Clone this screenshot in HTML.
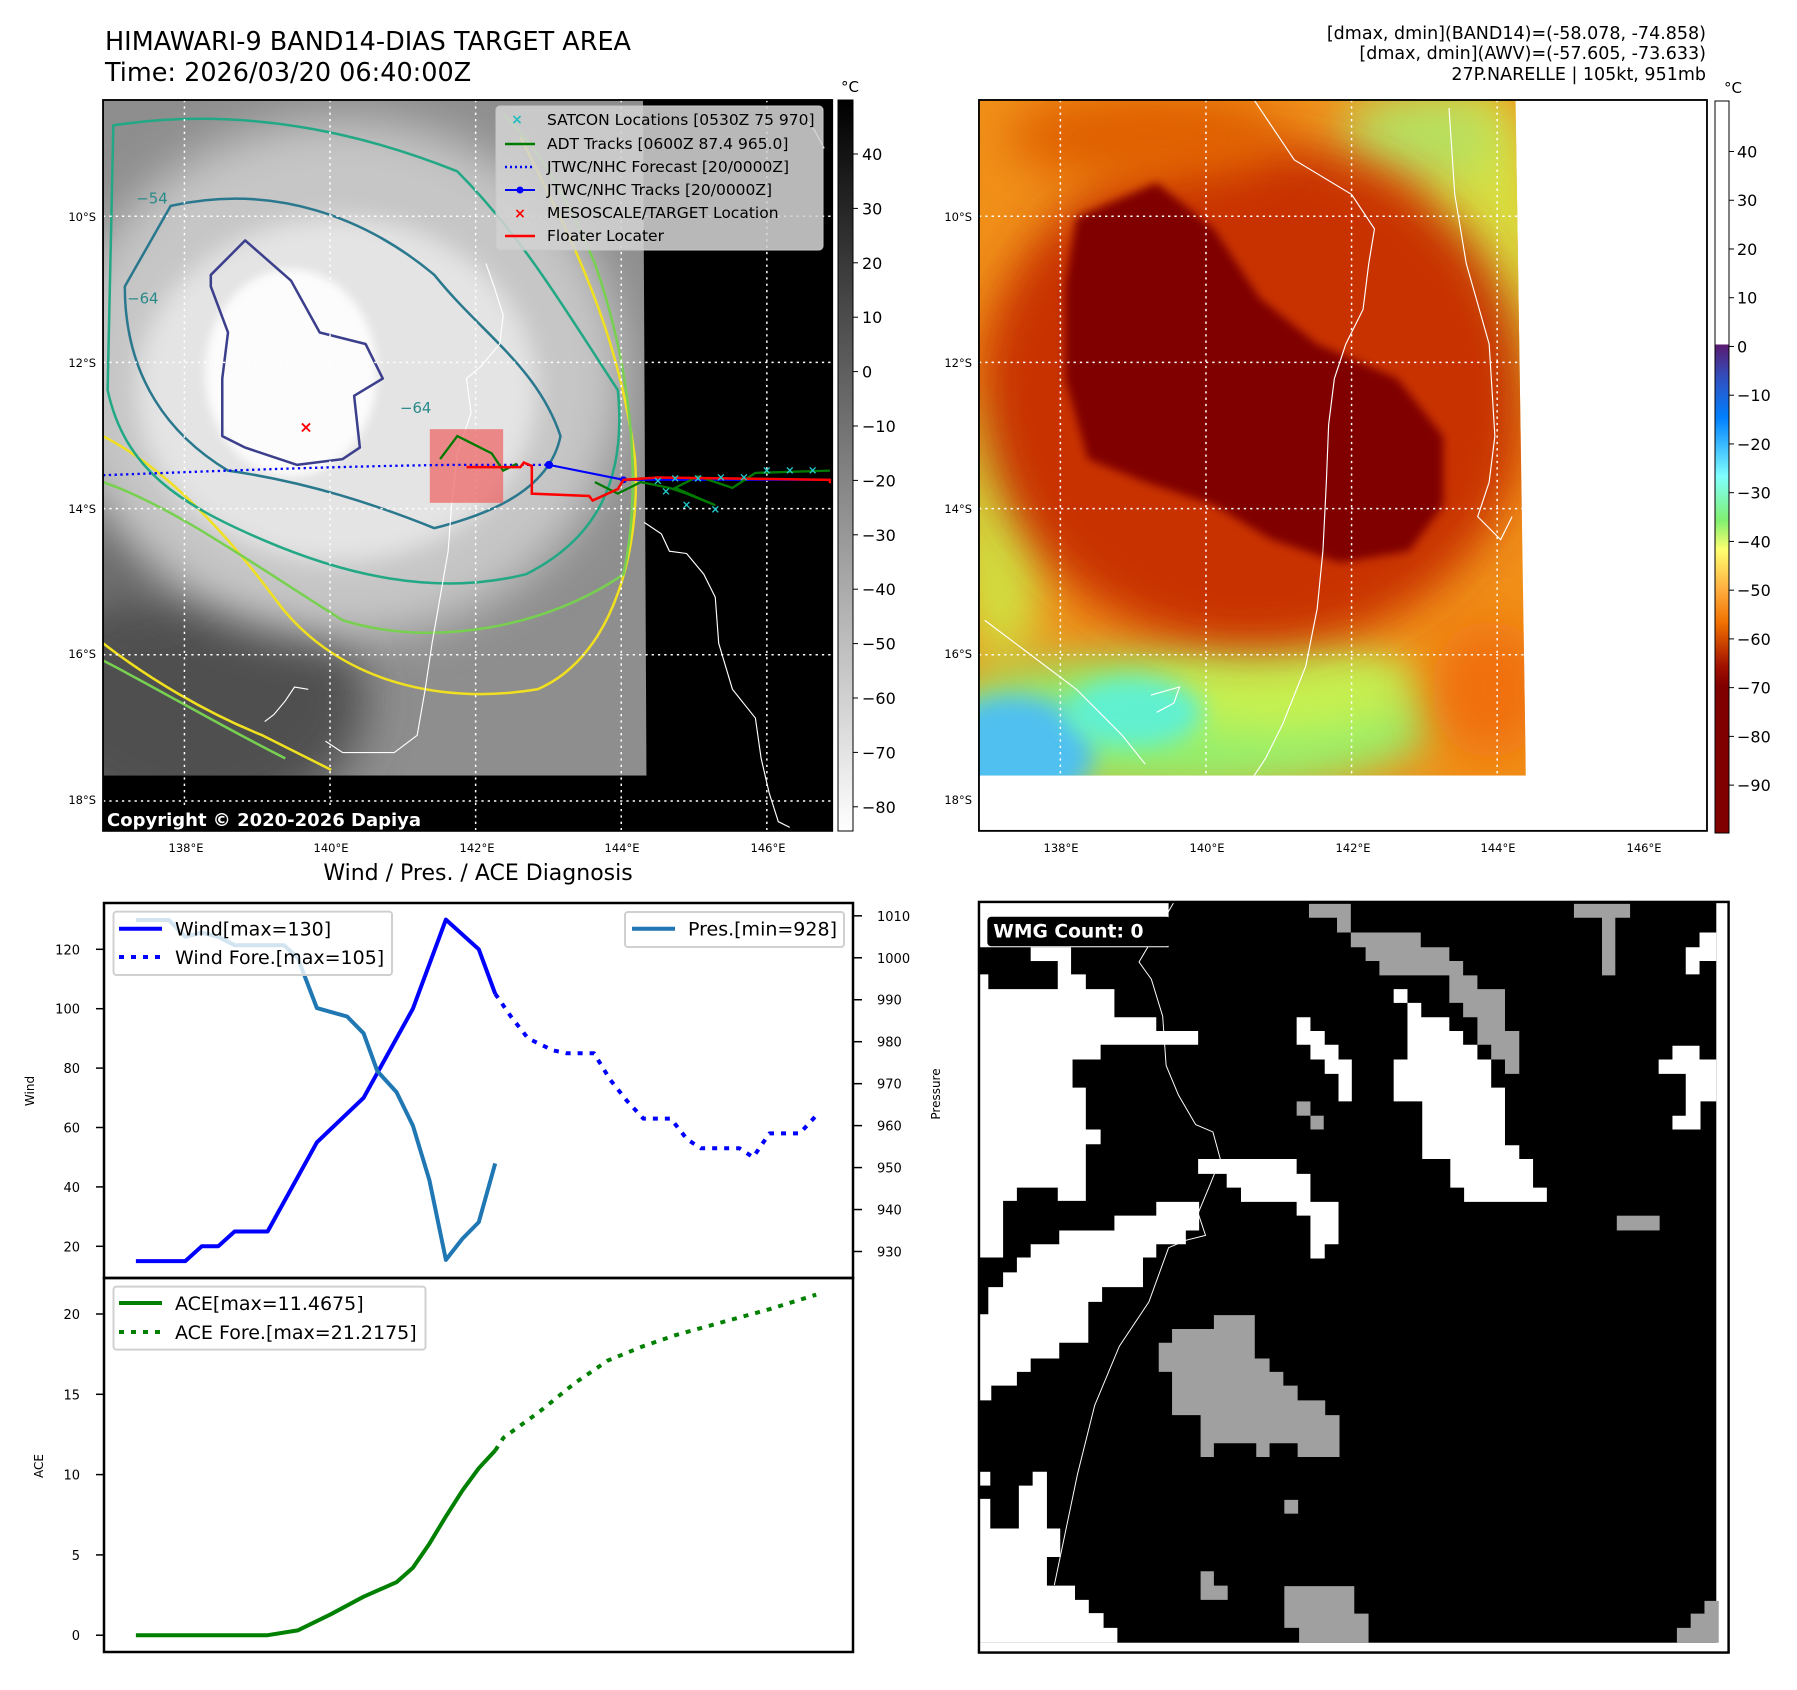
<!DOCTYPE html>
<html><head><meta charset="utf-8"><style>
html,body{margin:0;padding:0;background:#fff}
svg{display:block;font-family:"DejaVu Sans","Liberation Sans",sans-serif}
</style></head><body>
<svg id="root" width="1797" height="1690" viewBox="0 0 1797 1690" xmlns="http://www.w3.org/2000/svg">
<defs>
<filter id="b4" x="-50%" y="-50%" width="200%" height="200%"><feGaussianBlur stdDeviation="4"/></filter>
<filter id="b10" x="-50%" y="-50%" width="200%" height="200%"><feGaussianBlur stdDeviation="10"/></filter>
<filter id="b20" x="-50%" y="-50%" width="200%" height="200%"><feGaussianBlur stdDeviation="20"/></filter>
<clipPath id="c1"><polygon points="91,88 562,88 565,675 91,675"/></clipPath>
<clipPath id="c1ax"><rect x="91" y="88" width="636" height="635"/></clipPath>
<clipPath id="c2"><polygon points="855,88 1323,88 1332,675 855,675"/></clipPath>
<clipPath id="c2ax"><rect x="855" y="88" width="635" height="635"/></clipPath>
<linearGradient id="g1" x1="0" y1="0" x2="0" y2="1"><stop offset="0" stop-color="#000"/><stop offset="1" stop-color="#fff"/></linearGradient>
<linearGradient id="g2" x1="0" y1="0" x2="0" y2="1">
<stop offset="0" stop-color="#5a1a70"/><stop offset="0.07" stop-color="#3050c0"/><stop offset="0.15" stop-color="#0080ff"/>
<stop offset="0.27" stop-color="#80ffff"/><stop offset="0.36" stop-color="#80f070"/><stop offset="0.42" stop-color="#ffff70"/>
<stop offset="0.5" stop-color="#ffb040"/><stop offset="0.57" stop-color="#f07000"/><stop offset="0.66" stop-color="#a01000"/>
<stop offset="0.7" stop-color="#800000"/><stop offset="1" stop-color="#800000"/></linearGradient>
</defs>

<!-- titles -->
<text x="105" y="50" font-size="25.5">HIMAWARI-9 BAND14-DIAS TARGET AREA</text>
<text x="105" y="81" font-size="25.5">Time: 2026/03/20 06:40:00Z</text>
<g font-size="17.5" text-anchor="end">
<text x="1706" y="39">[dmax, dmin](BAND14)=(-58.078, -74.858)</text>
<text x="1706" y="59">[dmax, dmin](AWV)=(-57.605, -73.633)</text>
<text x="1706" y="80">27P.NARELLE | 105kt, 951mb</text>
</g>

<!-- MAP 1 -->
<g transform="matrix(1.1465 0 0 1.151 -1.3 -1.3)">
<rect x="91" y="88" width="636" height="635" fill="#000"/>
<g clip-path="url(#c1)">
<rect x="91" y="88" width="480" height="590" fill="#8e8e8e"/>
<ellipse cx="170" cy="610" rx="150" ry="110" fill="#505050" filter="url(#b20)"/>
<ellipse cx="125" cy="470" rx="55" ry="60" fill="#606060" filter="url(#b20)"/>
<ellipse cx="300" cy="330" rx="245" ry="225" fill="#c6c6c6" filter="url(#b20)"/>
<ellipse cx="295" cy="340" rx="175" ry="150" fill="#e4e4e4" filter="url(#b10)"/>
<ellipse cx="255" cy="325" rx="75" ry="90" fill="#fcfcfc" filter="url(#b4)"/>
<g fill="none" stroke-width="2.2" stroke-linejoin="round">
<path d="M91,380 C130,400 180,440 240,520 C290,590 380,615 470,600 C540,570 560,470 555,400 C545,320 520,250 480,170 L455,120" stroke="#f0e020"/>
<path d="M91,560 C130,590 180,620 230,640 L290,670" stroke="#f0e020"/>
<path d="M91,420 C150,440 220,490 300,540 C380,565 480,545 545,500 C560,430 555,330 520,230 C490,160 470,130 440,100" stroke="#78d050"/>
<path d="M91,575 C140,600 190,630 250,660" stroke="#78d050"/>
<path d="M100,110 C200,95 300,110 400,150 C460,210 500,280 540,340 C548,420 520,470 460,500 C380,520 300,500 230,470 C160,440 110,410 95,340 Z" stroke="#22a884"/>
<path d="M150,180 C240,160 320,190 380,240 C420,290 470,320 490,380 C480,430 420,450 380,460 C330,440 270,420 200,410 C150,380 110,330 110,250 Z" stroke="#2a788e"/>
<path d="M185,240 L215,210 L255,245 L280,290 L320,300 L335,330 L310,345 L315,390 L300,400 L260,405 L215,390 L195,380 L195,330 L200,290 L185,250 Z" stroke="#3b3f8c"/>
</g>
<g font-size="13" fill="#2a8a8a"><text x="120" y="178">−54</text><text x="350" y="360">−64</text><text x="112" y="265">−64</text></g>
</g>
<g clip-path="url(#c1ax)">
<g stroke="#fff" stroke-width="1.3" stroke-dasharray="2 3.5" fill="none">
<line x1="162" y1="88" x2="162" y2="723"/><line x1="289" y1="88" x2="289" y2="723"/><line x1="416" y1="88" x2="416" y2="723"/><line x1="543" y1="88" x2="543" y2="723"/><line x1="670" y1="88" x2="670" y2="723"/>
<line x1="91" y1="189" x2="727" y2="189"/><line x1="91" y1="316" x2="727" y2="316"/><line x1="91" y1="443" x2="727" y2="443"/><line x1="91" y1="570" x2="727" y2="570"/><line x1="91" y1="697" x2="727" y2="697"/>
</g>
<g stroke="#fff" stroke-width="1" fill="none">
<path d="M425,230 L432,250 440,275 437,300 420,320 408,330 412,360 400,395 395,440 392,480 385,520 378,560 372,600 365,640 345,655 300,655 285,645"/>
<path d="M270,600 L258,598 250,610 240,622 232,628"/>
<path d="M563,455 L578,465 585,480 600,482 615,500 625,520 628,560 640,600 660,625 665,660 672,690 680,715 690,720"/>
<path d="M700,100 L712,115 720,130"/>
</g>
<rect x="376" y="374" width="64" height="64" fill="#f06060" fill-opacity="0.7"/>
<path d="M91,414 C200,410 300,406 400,405 L480,405" stroke="#0000ff" stroke-width="2" stroke-dasharray="2 3" fill="none"/>
<polyline points="480,405 545,418 725,418" stroke="#0000ff" stroke-width="1.8" fill="none"/>
<circle cx="480" cy="405" r="3.5" fill="#0000ff"/><circle cx="545" cy="418" r="3" fill="#0000ff"/>
<polyline points="385,400 400,380 410,385 430,395 440,410 452,404" stroke="#007a00" stroke-width="2" fill="none"/>
<polyline points="520,420 540,430 560,420 585,425 600,430 625,440 590,425 610,415 640,425 660,412 725,410" stroke="#007a00" stroke-width="2" fill="none"/>
<polyline points="408,407 455,407 458,403 465,406 465,430 515,432 518,436 540,426 545,418 575,416 725,418 725,421" stroke="#ff0000" stroke-width="2.2" fill="none"/>
<g fill="#20c8c8" font-size="10" font-weight="bold" text-anchor="middle">
<text x="575" y="422">×</text><text x="590" y="420">×</text><text x="610" y="420">×</text><text x="630" y="419">×</text><text x="650" y="419">×</text><text x="670" y="413">×</text><text x="690" y="413">×</text><text x="710" y="413">×</text><text x="600" y="443">×</text><text x="625" y="447">×</text><text x="582" y="431">×</text>
</g>
<text x="268" y="377" fill="#ff0000" font-size="14" font-weight="bold" text-anchor="middle">×</text>
</g>
<rect x="91" y="88" width="636" height="635" fill="none" stroke="#000" stroke-width="1.6"/>
</g>

<!-- map1 legend -->
<g font-size="15.5">
<rect x="496" y="106" width="327" height="144" rx="4" fill="#d2d2d2" fill-opacity="0.88" stroke="#c8c8c8"/>
<text x="517" y="124" fill="#20c0c0" font-size="14" font-weight="bold" text-anchor="middle">×</text><text x="547" y="125">SATCON Locations [0530Z 75 970]</text>
<line x1="505" y1="144" x2="535" y2="144" stroke="#007a00" stroke-width="2.5"/><text x="547" y="149">ADT Tracks [0600Z 87.4 965.0]</text>
<line x1="505" y1="167" x2="535" y2="167" stroke="#0000ff" stroke-width="2.5" stroke-dasharray="2 3"/><text x="547" y="172">JTWC/NHC Forecast [20/0000Z]</text>
<line x1="505" y1="190" x2="535" y2="190" stroke="#0000ff" stroke-width="2"/><circle cx="520" cy="190" r="3.5" fill="#0000ff"/><text x="547" y="195">JTWC/NHC Tracks [20/0000Z]</text>
<text x="520" y="218" fill="#ff0000" font-size="14" font-weight="bold" text-anchor="middle">×</text><text x="547" y="218">MESOSCALE/TARGET Location</text>
<line x1="505" y1="236" x2="535" y2="236" stroke="#ff0000" stroke-width="2.5"/><text x="547" y="241">Floater Locater</text>
</g>
<g>
<rect x="103" y="806" width="312" height="25" rx="3" fill="#000"/>
<text x="107" y="826" fill="#fff" font-size="18" font-weight="bold">Copyright © 2020-2026 Dapiya</text>
</g>

<!-- MAP 2 -->
<g transform="matrix(1.1465 0 0 1.151 -1.3 -1.3)">
<rect x="855" y="88" width="635" height="635" fill="#fff"/>
<g clip-path="url(#c2)">
<rect x="855" y="88" width="480" height="590" fill="#f09018"/>
<ellipse cx="1290" cy="230" rx="60" ry="150" fill="#d8e040" filter="url(#b20)"/>
<ellipse cx="1240" cy="120" rx="70" ry="40" fill="#b8e060" filter="url(#b20)"/>
<ellipse cx="875" cy="460" rx="40" ry="120" fill="#d0e040" filter="url(#b20)"/>
<ellipse cx="1030" cy="630" rx="220" ry="60" fill="#90f070" filter="url(#b20)"/>
<ellipse cx="1120" cy="600" rx="120" ry="40" fill="#c8f050" filter="url(#b20)"/>
<ellipse cx="885" cy="655" rx="70" ry="50" fill="#50c0f0" filter="url(#b10)"/>
<ellipse cx="990" cy="620" rx="60" ry="30" fill="#60f0d0" filter="url(#b10)"/>
<ellipse cx="1300" cy="600" rx="50" ry="60" fill="#f07010" filter="url(#b20)"/>
<ellipse cx="1095" cy="345" rx="240" ry="220" fill="#c83000" filter="url(#b20)"/>
<ellipse cx="1000" cy="120" rx="120" ry="40" fill="#e06000" filter="url(#b20)"/>
<path d="M940,190 L1010,160 1060,200 1100,260 1150,300 1220,330 1260,380 1260,440 1230,480 1170,490 1110,470 1060,440 1000,420 950,400 930,330 930,250 Z" fill="#800000" filter="url(#b4)"/>
</g>
<g clip-path="url(#c2ax)">
<g stroke="#fff" stroke-width="1.3" stroke-dasharray="2 3.5" fill="none">
<line x1="926" y1="88" x2="926" y2="675"/><line x1="1053" y1="88" x2="1053" y2="675"/><line x1="1180" y1="88" x2="1180" y2="675"/><line x1="1307" y1="88" x2="1307" y2="675"/>
<line x1="855" y1="189" x2="1330" y2="189"/><line x1="855" y1="316" x2="1330" y2="316"/><line x1="855" y1="443" x2="1330" y2="443"/><line x1="855" y1="570" x2="1330" y2="570"/>
</g>
<g stroke="#fff" stroke-width="1" fill="none">
<path d="M1095,88 L1130,140 1180,170 1190,185 1200,200 1195,230 1190,270 1175,300 1165,330 1160,370 1158,420 1155,480 1150,530 1140,580 1120,630 1105,660 1095,675"/>
<path d="M1265,95 L1270,170 1280,230 1300,300 1305,380 1300,420 1290,450 1310,470 1320,450"/>
<path d="M860,540 L900,570 940,600 980,640 1000,665"/>
<path d="M1005,605 L1030,598 1025,612 1010,620"/>
</g>
</g>
<rect x="855" y="88" width="635" height="635" fill="none" stroke="#000" stroke-width="1.6"/>
</g>

<!-- colorbars -->
<g>
<rect x="838" y="100" width="15" height="731" fill="url(#g1)" stroke="#000" stroke-width="1"/>
<text x="850" y="92" font-size="15" text-anchor="middle">°C</text>
<g id="cb1ticks" font-size="16"></g>
</g>
<g>
<rect x="1715" y="101" width="14" height="244" fill="#fff"/>
<rect x="1715" y="344.5" width="14" height="488.5" fill="url(#g2)"/>
<rect x="1715" y="101" width="14" height="732" fill="none" stroke="#000" stroke-width="1"/>
<text x="1733" y="93" font-size="15" text-anchor="middle">°C</text>
<g id="cb2ticks" font-size="16"></g>
</g>

<!-- map tick labels -->
<g font-size="11.5">
<g text-anchor="end"><text x="96" y="221">10°S</text><text x="96" y="367">12°S</text><text x="96" y="513">14°S</text><text x="96" y="658">16°S</text><text x="96" y="804">18°S</text>
<text x="972" y="221">10°S</text><text x="972" y="367">12°S</text><text x="972" y="513">14°S</text><text x="972" y="658">16°S</text><text x="972" y="804">18°S</text></g>
<g text-anchor="middle"><text x="186" y="852">138°E</text><text x="331" y="852">140°E</text><text x="477" y="852">142°E</text><text x="622" y="852">144°E</text><text x="768" y="852">146°E</text>
<text x="1061" y="852">138°E</text><text x="1207" y="852">140°E</text><text x="1353" y="852">142°E</text><text x="1498" y="852">144°E</text><text x="1644" y="852">146°E</text></g>
</g>

<!-- WMG panel -->
<svg x="976.5" y="898" width="758.5" height="758.5" viewBox="0 0 1540 1540">
<rect x="5" y="8" width="1522" height="1524" fill="#fff"/>
<rect x="5" y="10" width="1497" height="1502" fill="#000"/>
<rect x="5" y="10" width="385" height="90" fill="#fff"/>
<g fill="#fff">
<rect x="110" y="100" width="82" height="28"/>
<polygon points="5,155 24,155 24,185 165,185 165,128 192,128 192,155 222,155 222,185 280,185 280,242 365,242 365,270 450,270 450,298 252,298 252,328 195,328 195,385 222,385 222,470 252,470 252,500 222,500 222,615 165,615 165,588 82,588 82,615 54,615 54,730 5,730"/>
<polygon points="5,845 24,845 24,790 54,790 54,760 82,760 82,730 110,730 110,703 168,703 168,675 280,675 280,645 365,645 365,617 452,617 452,675 425,675 425,703 365,703 365,730 338,730 338,790 255,790 255,820 227,820 227,903 168,903 168,935 110,935 110,962 82,962 82,990 30,990 30,1020 5,1020"/>
<rect x="5" y="1165" width="23" height="28"/>
<polygon points="5,1220 28,1220 28,1280 86,1280 86,1193 114,1193 114,1165 143,1165 143,1280 170,1280 170,1338 143,1338 143,1396 200,1396 200,1425 228,1425 228,1452 258,1452 258,1482 286,1482 286,1512 5,1512"/>
<polygon points="450,530 650,530 650,560 678,560 678,617 735,617 735,703 707,703 707,732 678,732 678,645 650,645 650,617 537,617 537,588 508,588 508,560 450,560"/>
<polygon points="650,242 678,242 678,270 707,270 707,298 735,298 735,328 762,328 762,413 735,413 735,357 707,357 707,328 678,328 678,298 650,298"/>
<rect x="847" y="185" width="28" height="28"/>
<polygon points="875,213 903,213 903,242 960,242 960,270 988,270 988,298 1017,298 1017,328 1045,328 1045,385 1073,385 1073,502 1102,502 1102,530 1130,530 1130,588 1158,588 1158,617 990,617 990,588 962,588 962,530 905,530 905,413 847,413 847,328 875,328"/>
<polygon points="1468,70 1502,70 1502,128 1468,128 1468,155 1440,155 1440,100 1468,100"/>
<polygon points="1413,300 1468,300 1468,328 1502,328 1502,413 1470,413 1470,470 1413,470 1413,442 1440,442 1440,357 1385,357 1385,328 1413,328"/>
</g>
<g fill="#a0a0a0">
<polygon points="675,12 760,12 760,70 732,70 732,40 675,40"/>
<polygon points="760,70 902,70 902,100 960,100 960,128 988,128 988,157 1017,157 1017,185 1073,185 1073,270 1102,270 1102,357 1073,357 1073,328 1045,328 1045,298 1017,298 1017,242 988,242 988,213 960,213 960,157 818,157 818,128 790,128 790,100 760,100"/>
<polygon points="1213,12 1327,12 1327,40 1297,40 1297,157 1270,157 1270,40 1213,40"/>
<rect x="650" y="413" width="28" height="29"/><rect x="678" y="442" width="27" height="28"/>
<rect x="1300" y="645" width="87" height="30"/>
<polygon points="482,847 565,847 565,935 595,935 595,962 623,962 623,990 652,990 652,1020 708,1020 708,1050 737,1050 737,1135 652,1135 652,1107 595,1107 595,1135 568,1135 568,1107 482,1107 482,1135 455,1135 455,1050 397,1050 397,962 370,962 370,903 397,903 397,875 482,875"/>
<rect x="625" y="1222" width="28" height="28"/>
<polygon points="455,1367 482,1367 482,1396 510,1396 510,1425 455,1425"/>
<polygon points="625,1397 767,1397 767,1453 796,1453 796,1512 655,1512 655,1482 625,1482"/>
<polygon points="1478,1427 1507,1427 1507,1512 1422,1512 1422,1482 1450,1482 1450,1453 1478,1453"/>
</g>
<path d="M400,10 L330,130 355,165 378,240 385,340 410,400 445,460 480,475 495,530 475,580 450,640 465,685 425,695 390,710 350,820 290,910 240,1030 205,1170 158,1395" stroke="#fff" stroke-width="2" fill="none"/>
<rect x="22" y="38" width="372" height="60" rx="8" fill="#000"/>
<text x="34" y="80" fill="#fff" font-size="38" font-weight="bold">WMG Count: 0</text>
<rect x="5" y="8" width="1522" height="1524" fill="none" stroke="#000" stroke-width="5"/>
</svg>

<!-- Diagnosis chart -->
<text x="478" y="880" font-size="22" text-anchor="middle">Wind / Pres. / ACE Diagnosis</text>
<g id="chart"></g>
</svg>
<script>
// ---- chart data ----
var windHours = [0,18,24,30,36,48,66,83,101,113,125,131];
var windValues = [15,15,20,20,25,25,55,70,100,130,120,105];
var foreHours = [131,137,143,152,157,167,173,179,185,195,201,206,220,225,231,242,248];
var foreWind = [105,97,90,86,85,85,76,69,63,63,56,53,53,50,58,58,64];
var presHours = [0,12,18,24,30,36,54,59,66,77,83,88,95,101,107,113,119,125,131];
var presValues = [1009,1009,1005,1006,1005,1003,1003,1000,988,986,982,973,968,960,947,928,933,937,951];
var aceHours = [0,48,59,71,83,95,101,107,113,119,125,131];
var aceValues = [0,0,0.3,1.3,2.4,3.3,4.2,5.7,7.4,9.0,10.4,11.5];
var aceForeHours = [131,134,147,160,172,185,197,214,231,248];
var aceForeValues = [11.5,12.3,13.9,15.7,17.1,18.0,18.7,19.5,20.3,21.2];
var windTicks = [20,40,60,80,100,120];
var presTicks = [930,940,950,960,970,980,990,1000,1010];
var aceTicks = [0,5,10,15,20];
var cb1Ticks = [40,30,20,10,0,-10,-20,-30,-40,-50,-60,-70,-80];
var cb2Ticks = [40,30,20,10,0,-10,-20,-30,-40,-50,-60,-70,-80,-90];

var NS = 'http://www.w3.org/2000/svg';
function xh(h){ return 135.9 + h * 2.743; }
function yW(v){ return 1246.3 - (v - 20) * 2.97; }
function yP(p){ return 1251.5 - (p - 930) * 4.196; }
function yA(a){ return 1635.2 - a * 16.06; }
function mk(tag, parent){ var e = document.createElementNS(NS, tag); parent.appendChild(e); return e; }
function pts(hs, vs, fy){ return hs.map(function(h,i){ return xh(h).toFixed(1)+','+fy(vs[i]).toFixed(1); }).join(' '); }
function txt(parent, x, y, s, size, anchor){
  var t = mk('text', parent);
  t.setAttribute('x', x); t.setAttribute('y', y); t.setAttribute('font-size', size);
  if (anchor) t.setAttribute('text-anchor', anchor);
  t.textContent = s; return t;
}
var chart = document.getElementById('chart');

var f1 = mk('rect', chart);


f1.setAttribute('x', 104); f1.setAttribute('y', 903); f1.setAttribute('width', 749); f1.setAttribute('height', 375);
f1.setAttribute('fill', 'none'); f1.setAttribute('stroke', '#000'); f1.setAttribute('stroke-width', 2.5);
var f2 = mk('rect', chart);


f2.setAttribute('x', 104); f2.setAttribute('y', 1278); f2.setAttribute('width', 749); f2.setAttribute('height', 374);
f2.setAttribute('fill', 'none'); f2.setAttribute('stroke', '#000'); f2.setAttribute('stroke-width', 2.5);

windTicks.forEach(function(v){
  var l = mk('line', chart);
  
  
  l.setAttribute('x1', 96); l.setAttribute('x2', 104); l.setAttribute('y1', yW(v)); l.setAttribute('y2', yW(v)); l.setAttribute('stroke', '#000'); l.setAttribute('stroke-width', 1.5);
  var t = txt(chart, 80, yW(v) + 5, String(v), 13, 'end');
  
  
});
presTicks.forEach(function(v){
  var l = mk('line', chart);
  
  
  l.setAttribute('x1', 853); l.setAttribute('x2', 862); l.setAttribute('y1', yP(v)); l.setAttribute('y2', yP(v)); l.setAttribute('stroke', '#000'); l.setAttribute('stroke-width', 1.5);
  var t = txt(chart, 877, yP(v) + 5, String(v), 13, 'start');
  
  
});
aceTicks.forEach(function(v){
  var l = mk('line', chart);
  
  
  l.setAttribute('x1', 96); l.setAttribute('x2', 104); l.setAttribute('y1', yA(v)); l.setAttribute('y2', yA(v)); l.setAttribute('stroke', '#000'); l.setAttribute('stroke-width', 1.5);
  var t = txt(chart, 80, yA(v) + 5, String(v), 13, 'end');
  
  
});
function rotLabel(x, y, s, name){
  var t = txt(chart, x, y, s, 12, 'middle');
  t.setAttribute('transform', 'rotate(-90 ' + x + ' ' + y + ')');
  
  
}
rotLabel(34, 1091, 'Wind', 'wind-axis-title');
rotLabel(43, 1466, 'ACE', 'ace-axis-title');
rotLabel(940, 1094, 'Pressure', 'pressure-axis-title');

function line(hs, vs, fy, color, dashed, name){
  var p = mk('polyline', chart);
  
  
  p.setAttribute('points', pts(hs, vs, fy));
  p.setAttribute('fill', 'none'); p.setAttribute('stroke', color); p.setAttribute('stroke-width', 4);
  p.setAttribute('stroke-linejoin', 'round');
  if (dashed) p.setAttribute('stroke-dasharray', '5 7');
}
line(foreHours, foreWind, yW, '#0000ff', true, 'wind-forecast-line');
line(windHours, windValues, yW, '#0000ff', false, 'wind-line');
line(presHours, presValues, yP, '#1f77b4', false, 'pressure-line');
line(aceForeHours, aceForeValues, yA, '#008000', true, 'ace-forecast-line');
line(aceHours, aceValues, yA, '#008000', false, 'ace-line');

function legendBox(x, y, w, h, name){
  var r = mk('rect', chart);
  
  
  r.setAttribute('x', x); r.setAttribute('y', y); r.setAttribute('width', w); r.setAttribute('height', h);
  r.setAttribute('rx', 3); r.setAttribute('fill', '#fff'); r.setAttribute('fill-opacity', 0.8); r.setAttribute('stroke', '#d0d0d0'); r.setAttribute('stroke-width', 2);
}
function legendEntry(y, color, dashed, label, x0){
  var l = mk('line', chart);
  
  
  l.setAttribute('x1', x0); l.setAttribute('x2', x0 + 43); l.setAttribute('y1', y); l.setAttribute('y2', y);
  l.setAttribute('stroke', color); l.setAttribute('stroke-width', 4);
  if (dashed) l.setAttribute('stroke-dasharray', '5 7');
  var t = txt(chart, x0 + 56, y + 7, label, 19, 'start');
  
  
}
legendBox(113.5, 911.6, 278.5, 63.4, 'wind-legend');
legendEntry(928.7, '#0000ff', false, 'Wind[max=130]', 119);
legendEntry(957, '#0000ff', true, 'Wind Fore.[max=105]', 119);
legendBox(625, 912, 219, 35, 'pressure-legend');
legendEntry(928.7, '#1f77b4', false, 'Pres.[min=928]', 632);
legendBox(113.5, 1286.6, 312, 63, 'ace-legend');
legendEntry(1303, '#008000', false, 'ACE[max=11.4675]', 119);
legendEntry(1332, '#008000', true, 'ACE Fore.[max=21.2175]', 119);

var cb1 = document.getElementById('cb1ticks');
cb1Ticks.forEach(function(v){
  var y = 154 + (40 - v) * 5.44;
  var l = mk('line', cb1); l.setAttribute('x1', 853); l.setAttribute('x2', 858); l.setAttribute('y1', y); l.setAttribute('y2', y); l.setAttribute('stroke', '#000');
  
  
  var t = txt(cb1, 862, y + 6, v < 0 ? '\u2212' + (-v) : String(v), 16, 'start');
  
  
});
var cb2 = document.getElementById('cb2ticks');
cb2Ticks.forEach(function(v){
  var y = 151.5 + (40 - v) * 4.874;
  var l = mk('line', cb2); l.setAttribute('x1', 1729); l.setAttribute('x2', 1734); l.setAttribute('y1', y); l.setAttribute('y2', y); l.setAttribute('stroke', '#000');
  
  
  var t = txt(cb2, 1737, y + 6, v < 0 ? '\u2212' + (-v) : String(v), 16, 'start');
  
  
});
</script>
</body></html>
